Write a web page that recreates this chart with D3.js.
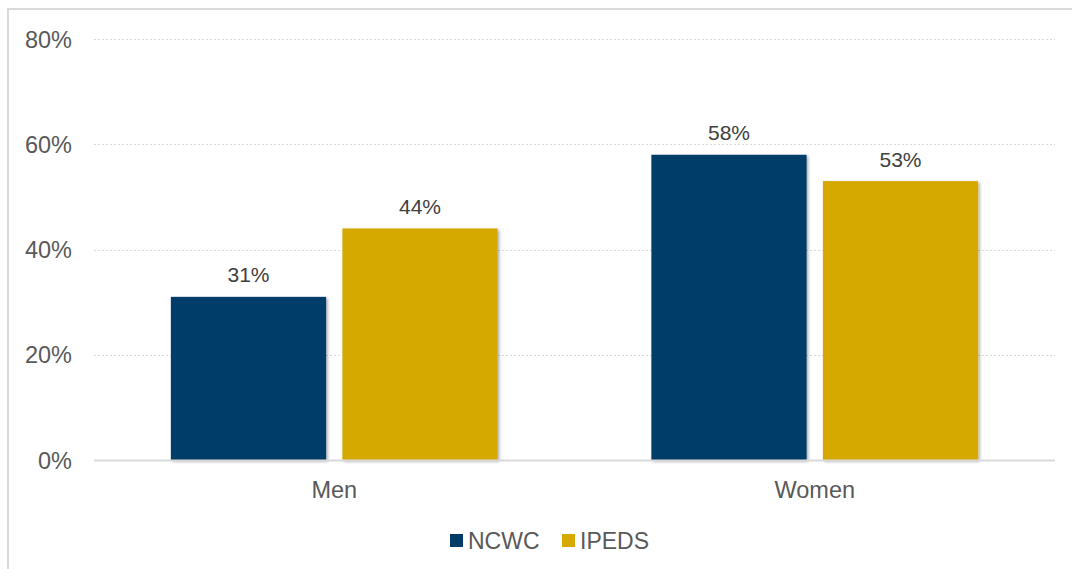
<!DOCTYPE html>
<html><head><meta charset="utf-8">
<script src="https://cdn.jsdelivr.net/npm/d3@7"></script>
<style>
html,body{margin:0;padding:0;background:#fff;}
svg{display:block;font-family:"Liberation Sans",Arial,Helvetica,sans-serif;}
</style></head>
<body>
<svg id="chart" width="1072" height="569"></svg>
<script>
const categories = ["Men", "Women"];
const seriesNames = ["NCWC", "IPEDS"];
const ncwcValues = [0.31, 0.58];
const ipedsValues = [0.44, 0.53];
const tickValues = [0, 0.2, 0.4, 0.6, 0.8];
const colors = ["#013C69", "#D5A900"];

(function () {
const svg = d3.select("#chart");
const W = 1072, H = 569;
const pLeft = 94, pRight = 1055, pTop = 39, pBottom = 460;

svg.append("rect").attr("x", 8).attr("y", 9).attr("width", W + 20).attr("height", H + 20)
  .attr("fill", "#fff").attr("stroke", "#D9D9D9").attr("stroke-width", 2);

const defs = svg.append("defs");
const f = defs.append("filter").attr("id", "sh").attr("x", "-10%").attr("y", "-10%").attr("width", "120%").attr("height", "120%");
f.append("feDropShadow").attr("dx", 1.5).attr("dy", 1.5).attr("stdDeviation", 1.8)
  .attr("flood-color", "#000").attr("flood-opacity", 0.35);

const y = d3.scaleLinear().domain([0, 0.8]).range([pBottom, pTop]);
const x0 = d3.scaleBand().domain(categories).range([pLeft, pRight]).paddingInner(0.32).paddingOuter(0.16);
const x1 = d3.scaleBand().domain(seriesNames).range([0, x0.bandwidth()]).paddingInner(0.095);

const grid = svg.append("g");
grid.selectAll("line").data(tickValues.filter(d => d > 0)).join("line")
  .attr("x1", pLeft).attr("x2", pRight)
  .attr("y1", d => Math.round(y(d)) + 0.5).attr("y2", d => Math.round(y(d)) + 0.5)
  .attr("stroke", "#D9D9D9").attr("stroke-width", 1).attr("stroke-dasharray", "2,2");

const yAxis = d3.axisLeft(y).tickValues(tickValues).tickFormat(d3.format(".0%")).tickSize(0).tickPadding(0);
const ya = svg.append("g").attr("transform", `translate(72,0)`).call(yAxis);
ya.select(".domain").remove();
ya.selectAll("text").attr("font-size", 23.5).attr("fill", "#595959")
  .attr("font-family", "'Liberation Sans',Arial,sans-serif").attr("dy", "0.35em");

const data = categories.map((c, i) => ({ cat: c, vals: [ncwcValues[i], ipedsValues[i]] }));

const groups = svg.append("g").selectAll("g").data(data).join("g")
  .attr("transform", d => `translate(${x0(d.cat)},0)`);

groups.selectAll("rect").data(d => d.vals.map((v, j) => ({ s: seriesNames[j], v, j }))).join("rect")
  .attr("x", d => x1(d.s)).attr("width", x1.bandwidth())
  .attr("y", d => y(d.v)).attr("height", d => pBottom - y(d.v))
  .attr("fill", d => colors[d.j]).attr("filter", "url(#sh)");

groups.selectAll("text").data(d => d.vals.map((v, j) => ({ s: seriesNames[j], v, j }))).join("text")
  .attr("x", d => x1(d.s) + x1.bandwidth() / 2).attr("y", d => y(d.v) - 14.5)
  .attr("text-anchor", "middle").attr("font-size", 21).attr("fill", "#404040")
  .text(d => d3.format(".0%")(d.v));

svg.append("line").attr("x1", pLeft).attr("x2", pRight).attr("y1", pBottom + 0.5).attr("y2", pBottom + 0.5)
  .attr("stroke", "#D9D9D9").attr("stroke-width", 2);

const xAxis = d3.axisBottom(x0).tickSize(0).tickPadding(0);
const xa = svg.append("g").attr("transform", `translate(0,${pBottom})`).call(xAxis);
xa.select(".domain").remove();
xa.selectAll("text").attr("font-size", 23.5).attr("fill", "#595959")
  .attr("font-family", "'Liberation Sans',Arial,sans-serif").attr("y", 30).attr("dy", "0.35em");

const legendX = [450, 562];
const lg = svg.append("g").selectAll("g").data(seriesNames).join("g")
  .attr("transform", (d, i) => `translate(${legendX[i]},534)`);
lg.append("rect").attr("width", 13).attr("height", 13).attr("fill", (d, i) => colors[i]);
lg.append("text").attr("x", 18).attr("y", 6.5).attr("dy", "0.35em").attr("font-size", 23)
  .attr("fill", "#595959").text(d => d);
})();
</script>
</body></html>
